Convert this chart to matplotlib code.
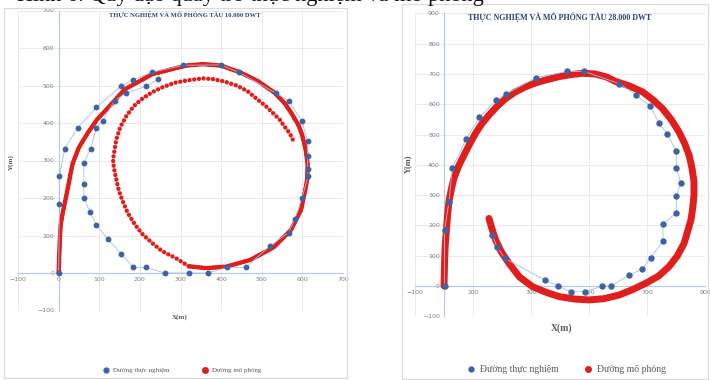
import matplotlib.pyplot as plt
from matplotlib.lines import Line2D
from matplotlib.patches import Rectangle

# ---- data (metres) ----
# ship 10.000 DWT
exp10_x = [0, 2, 2, 15, 47, 93, 153, 184, 229, 307, 399, 444, 534, 566, 599, 613, 613, 613,
           614, 599, 582, 566, 520, 461, 414, 368, 321, 261, 214, 184, 153, 122, 93, 77, 62,
           62, 62, 79, 93, 108, 138, 167, 215, 245]
exp10_y = [0, 185, 258, 332, 387, 442, 498, 516, 535, 554, 555, 535, 480, 460, 405, 351, 312, 277,
           258, 200, 145, 108, 72, 15, 15, 0, 0, 0, 15, 15, 52, 90, 128, 163, 201,
           238, 294, 332, 387, 405, 460, 480, 498, 517]

sim10_x = [0, 1, 2, 3, 5, 10, 17, 25, 34, 50, 72, 95, 122, 163, 230, 313, 355, 400, 447, 490,
           530, 555, 572, 590, 600, 608, 613, 612, 609, 597, 572, 530, 472, 413, 363, 320, 288,
           255, 230, 205, 188, 170, 159, 148, 142, 136, 134, 138, 142, 152, 167, 185, 205, 230,
           255, 285, 313, 355, 380, 410, 438, 465, 488, 510, 530, 545, 555, 565, 572, 578]
sim10_y = [0, 30, 60, 90, 128, 160, 196, 240, 290, 335, 374, 410, 441, 490, 530, 553, 557, 553,
           535, 512, 482, 455, 428, 395, 366, 330, 290, 250, 232, 169, 115, 69, 35, 17, 13, 18,
           40, 58, 80, 105, 129, 160, 188, 220, 250, 280, 303, 330, 356, 390, 419, 445, 464,
           482, 495, 507, 513, 519, 517, 510, 500, 485, 464, 445, 424, 408, 392, 378, 366, 352]

# ship 28.000 DWT
exp28_x = [2, 2, 17, 29, 76, 122, 180, 213, 318, 425, 484, 604, 663, 710, 741, 770, 801, 801,
           817, 801, 801, 755, 755, 713, 682, 638, 577, 546, 485, 438, 394, 347, 210, 182, 167]
exp28_y = [0, 185, 278, 391, 484, 557, 613, 633, 688, 708, 708, 668, 630, 594, 539, 501, 445, 391,
           339, 297, 242, 204, 148, 93, 55, 36, 0, 0, -19, -19, 0, 20, 91, 130, 168]

sim28_x = [0, 1, 2, 4, 8, 12, 17, 25, 34, 50, 69, 88, 109, 130, 155, 183, 213, 245, 282, 315,
           351, 397, 440, 477, 520, 560, 592, 640, 684, 720, 753, 783, 810, 830, 845, 855, 862,
           862, 858, 852, 840, 828, 805, 776, 740, 696, 650, 603, 550, 500, 450, 397, 350, 305,
           260, 224, 198, 178, 165, 155]
sim28_y = [0, 40, 80, 130, 180, 230, 278, 318, 355, 395, 432, 468, 504, 535, 564, 593, 619, 640,
           658, 670, 680, 691, 698, 702, 700, 690, 675, 660, 641, 615, 586, 550, 509, 470, 432,
           390, 344, 300, 260, 220, 180, 141, 100, 64, 33, 9, -12, -30, -42, -46, -43, -35, -20,
           -2, 30, 75, 112, 152, 190, 223]

title10 = "THỰC NGHIỆM VÀ MÔ PHỎNG TÀU 10.000 DWT"
title28 = "THỰC NGHIỆM VÀ MÔ PHỎNG TÀU 28.000 DWT"
lab_exp = "Đường thực nghiệm"
lab_sim = "Đường mô phỏng"

BLUE = "#3f63a0"
LBLUE = "#9dc3e6"
RED = "#e01f1c"
GRID = "#e6e6e6"
TICK = "#808080"
SERIF = ["Liberation Serif", "DejaVu Serif"]

W, H = 710, 380
fig = plt.figure(figsize=(7.1, 3.8), dpi=100)


def fx(px):
    return px / W


def fy(py):
    return 1 - py / H


# panel frames
fig.patches.append(Rectangle((fx(4), fy(378)), fx(343), 370 / H, transform=fig.transFigure,
                             fill=False, ec="#d9d9d9", lw=0.8))
fig.patches.append(Rectangle((fx(402), fy(379)), fx(306), 375 / H, transform=fig.transFigure,
                             fill=False, ec="#d9d9d9", lw=0.8))

# caption line of the page, cut off at the top of the picture as in the scan
fig.text(fx(250), fy(0.5), "Hình 6. Quỹ đạo quay trở thực nghiệm và mô phỏng", ha="center",
         va="baseline", family=SERIF, fontsize=16, color="#111111")


def style(ax, xt, yt):
    ax.set_xticks(xt)
    ax.set_yticks(yt)
    ax.grid(True, color=GRID, lw=0.6, zorder=0)
    ax.set_axisbelow(True)
    for s in ["top", "right"]:
        ax.spines[s].set_visible(False)
    for s in ["left", "bottom"]:
        ax.spines[s].set_position(("data", 0))
        ax.spines[s].set_color("#b4c7e7")
        ax.spines[s].set_linewidth(0.8)
    ax.tick_params(length=0, labelsize=4.5, colors=TICK, pad=3)
    ax.patch.set_alpha(0)


# ---- left chart ----
ax1 = fig.add_axes([fx(18), fy(310.5), 325 / W, 300 / H])
ax1.set_xlim(-100, 700)
ax1.set_ylim(-100, 700)
style(ax1, range(-100, 701, 100), range(-100, 701, 100))
# first loop: dots packed tight, second loop: dots apart
ax1.plot(sim10_x[:36], sim10_y[:36], color=RED, lw=3.4, ls=(0, (0.01, 0.55)),
         dash_capstyle="round", zorder=3)
ax1.plot(sim10_x[35:], sim10_y[35:], color=RED, lw=3.2, ls=(0, (0.01, 1.05)),
         dash_capstyle="round", zorder=3)
ax1.plot(exp10_x, exp10_y, color=LBLUE, lw=0.6, zorder=4)
ax1.plot(exp10_x, exp10_y, ls="none", marker="o", ms=3.2, color=BLUE, mec=BLUE, zorder=5)

fig.text(fx(185), fy(15), title10, ha="center", va="center", family=SERIF, fontsize=4.8,
         weight="bold", color="#2c4470")
fig.text(fx(11), fy(162), "Y(m)", rotation=90, ha="center", va="center", family=SERIF,
         fontsize=5, weight="bold", color="#595959")
fig.text(fx(180), fy(317), "X(m)", ha="center", va="center", family=SERIF, fontsize=5,
         weight="bold", color="#595959")

# ---- right chart ----
ax2 = fig.add_axes([fx(415), fy(316.3), 290 / W, 303 / H])
ax2.set_xlim(-100, 900)
ax2.set_ylim(-100, 900)
style(ax2, range(-100, 901, 200), range(-100, 901, 100))
ax2.plot(sim28_x, sim28_y, color=RED, lw=5, solid_capstyle="round", zorder=3)
ax2.plot(exp28_x, exp28_y, color=LBLUE, lw=0.6, zorder=4)
ax2.plot(exp28_x, exp28_y, ls="none", marker="o", ms=3.6, color=BLUE, mec=BLUE, zorder=5)

fig.text(fx(560), fy(17), title28, ha="center", va="center", family=SERIF, fontsize=5.8,
         weight="bold", color="#2c4470")
fig.text(fx(408), fy(164), "Y(m)", rotation=90, ha="center", va="center", family=SERIF,
         fontsize=6, weight="bold", color="#595959")
fig.text(fx(562), fy(328), "X(m)", ha="center", va="center", family=SERIF, fontsize=7,
         weight="bold", color="#595959")

# ---- legends ----
handles = [Line2D([], [], ls="none", marker="o", color=BLUE, ms=3.5),
           Line2D([], [], ls="none", marker="o", color=RED, ms=4)]
fig.legend(handles, [lab_exp, lab_sim], loc="center", bbox_to_anchor=(fx(182), fy(370)),
           ncol=2, frameon=False, prop={"family": SERIF, "size": 5}, labelcolor="#595959",
           handletextpad=0.5, columnspacing=4.5, handlelength=1)
fig.legend(handles, [lab_exp, lab_sim], loc="center", bbox_to_anchor=(fx(566), fy(370)),
           ncol=2, frameon=False, prop={"family": SERIF, "size": 7}, labelcolor="#595959",
           handletextpad=0.4, columnspacing=2.5, handlelength=1)

fig.savefig("out.png", dpi=100)
